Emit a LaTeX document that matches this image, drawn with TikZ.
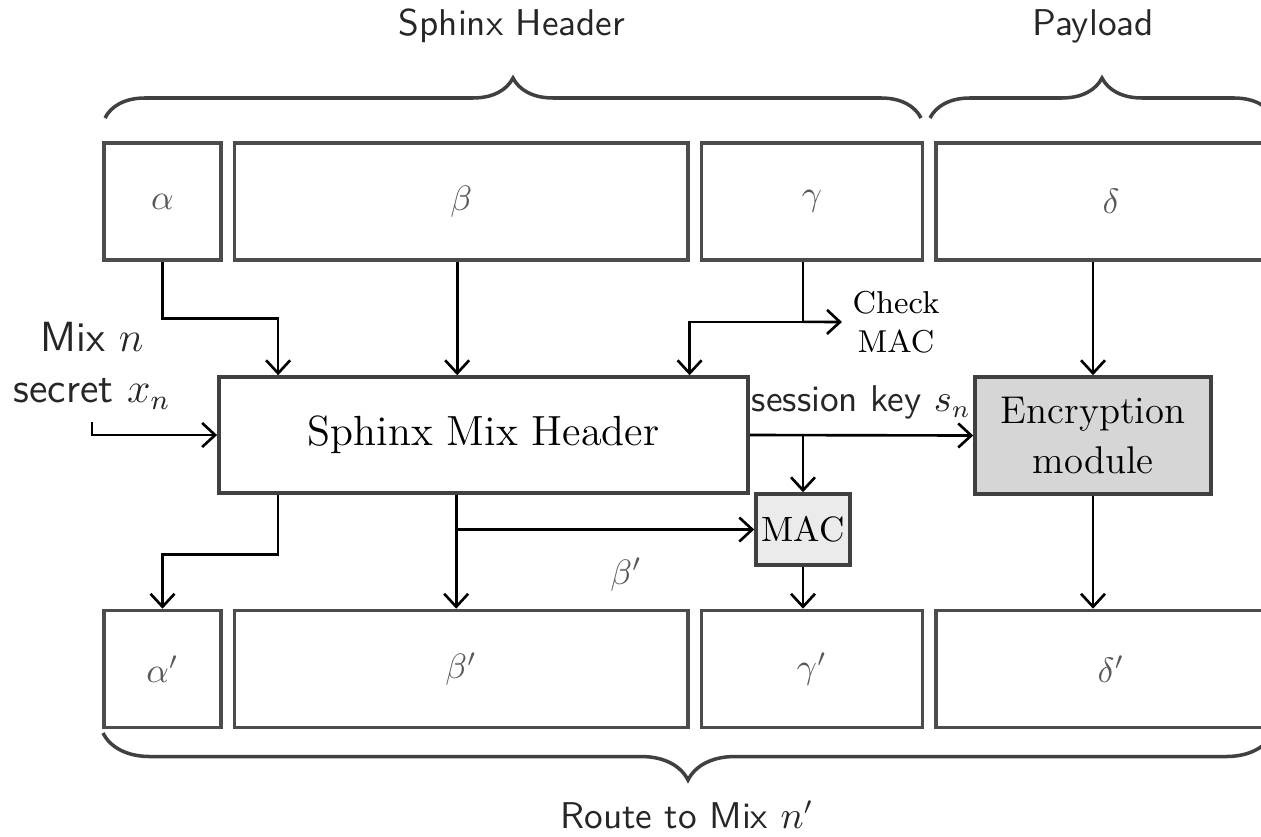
\documentclass[tikz,border=0pt]{standalone}
\usepackage{amsmath}
\usetikzlibrary{arrows.meta,positioning,decorations.pathreplacing}

\begin{document}
\begin{tikzpicture}[x=0.01cm,y=-0.01cm,node distance=1mm and 1mm,
  field/.style={draw=black!70,line width=1pt,minimum height=11.7mm,inner sep=0pt,text=black!65},
  box/.style={draw=black!75,line width=1pt,align=center,inner sep=0pt},
  arr/.style={-{Straight Barb[length=1.3mm,width=2.4mm]},line width=0.75pt},
  lbl/.style={font=\sffamily\fontsize{10.6}{13}\selectfont,align=center,text=black!85},
  brc/.style={decorate,decoration={brace,amplitude=4mm},line width=1pt,draw=black!75}]
\clip (0,0) rectangle (1261,836);
% incoming packet
\node[field,minimum width=1.17cm] (alpha) at (162.5,201.5) {$\alpha$};
\node[field,minimum width=4.53cm,right=of alpha] (beta) {$\beta$};
\node[field,minimum width=2.21cm,right=of beta] (gamma) {$\gamma$};
\node[field,minimum width=3.5cm,right=of gamma] (delta) {$\delta$};
% outgoing packet
\node[field,minimum width=1.17cm] (alphap) at (162.5,669) {$\alpha'$};
\node[field,minimum width=4.53cm,right=of alphap] (betap) {$\beta'$};
\node[field,minimum width=2.21cm,right=of betap] (gammap) {$\gamma'$};
\node[field,minimum width=3.5cm,right=of gammap] (deltap) {$\delta'$};
% processing
\node[box,minimum width=5.29cm,minimum height=11.6mm,font=\large] (hdr) at (483.5,435) {Sphinx Mix Header};
\node[box,minimum width=2.36cm,minimum height=11.7mm,fill=black!16,font=\fontsize{11}{14}\selectfont] (enc) at (1093,435.5) {Encryption\\module};
\node[box,minimum width=0.94cm,minimum height=7.1mm,fill=black!8] (mac) at (803,529.5) {MAC};
\node[align=center,font=\small,inner sep=1mm] (chk) at (896,322) {Check\\MAC};
\node[lbl,font=\sffamily\fontsize{12}{14.5}\selectfont] (mix) at (92,366) {Mix $n$\\secret $x_n$};
% braces
\draw[brc] (105,118) -- (921,118);
\draw[brc] (930,118) -- (1274,118);
\draw[brc,decoration={amplitude=4.7mm}] (1273,733) -- (103,733);
\node[lbl] (hlbl) at (512,26) {Sphinx Header};
\node[lbl] (plbl) at (1093,26) {Payload};
\node[lbl] (rlbl) at (687,815) {Route to Mix $n'$};
% arrows
\coordinate (gsplit) at ([yshift=-6mm]gamma.south -| mac.north);
\coordinate (ksplit) at (mac.north |- hdr.east);
\draw[arr] (alpha.south) |- ([xshift=6.1mm,yshift=5.7mm]hdr.north west) -- ([xshift=6.1mm]hdr.north west);
\draw[arr] ([xshift=-0.4mm]beta.south) -- ([xshift=-0.4mm]beta.south |- hdr.north);
\draw (gsplit |- gamma.south) -- (gsplit);
\draw[arr] (gsplit) -- (chk.west);
\draw[arr] (gsplit) -| (beta.south east |- hdr.north);
\draw[arr] (delta.south -| enc.north) -- (enc.north);
\draw[arr] (mix.south) |- (hdr.west);
\draw[arr] (hdr.east) -- (enc.west) node[midway,above,lbl,inner sep=1.5mm] {session key $s_n$};
\draw[arr] (ksplit) -- (mac.north);
\draw[arr] ([xshift=6.1mm]hdr.south west) -- ++(0,60) -| (alphap.north);
\draw[arr] ([xshift=-0.5mm]beta.south |- hdr.south) -- ([xshift=-0.5mm]betap.north);
\draw[arr] ([xshift=-0.5mm]beta.south |- mac.west) -- (mac.west) node[pos=0.57,below=1.5mm,text=black!65] {$\beta'$};
\draw[arr] (mac.south) -- (mac.south |- gammap.north);
\draw[arr] (enc.south) -- (enc.south |- deltap.north);
\end{tikzpicture}
\end{document}
